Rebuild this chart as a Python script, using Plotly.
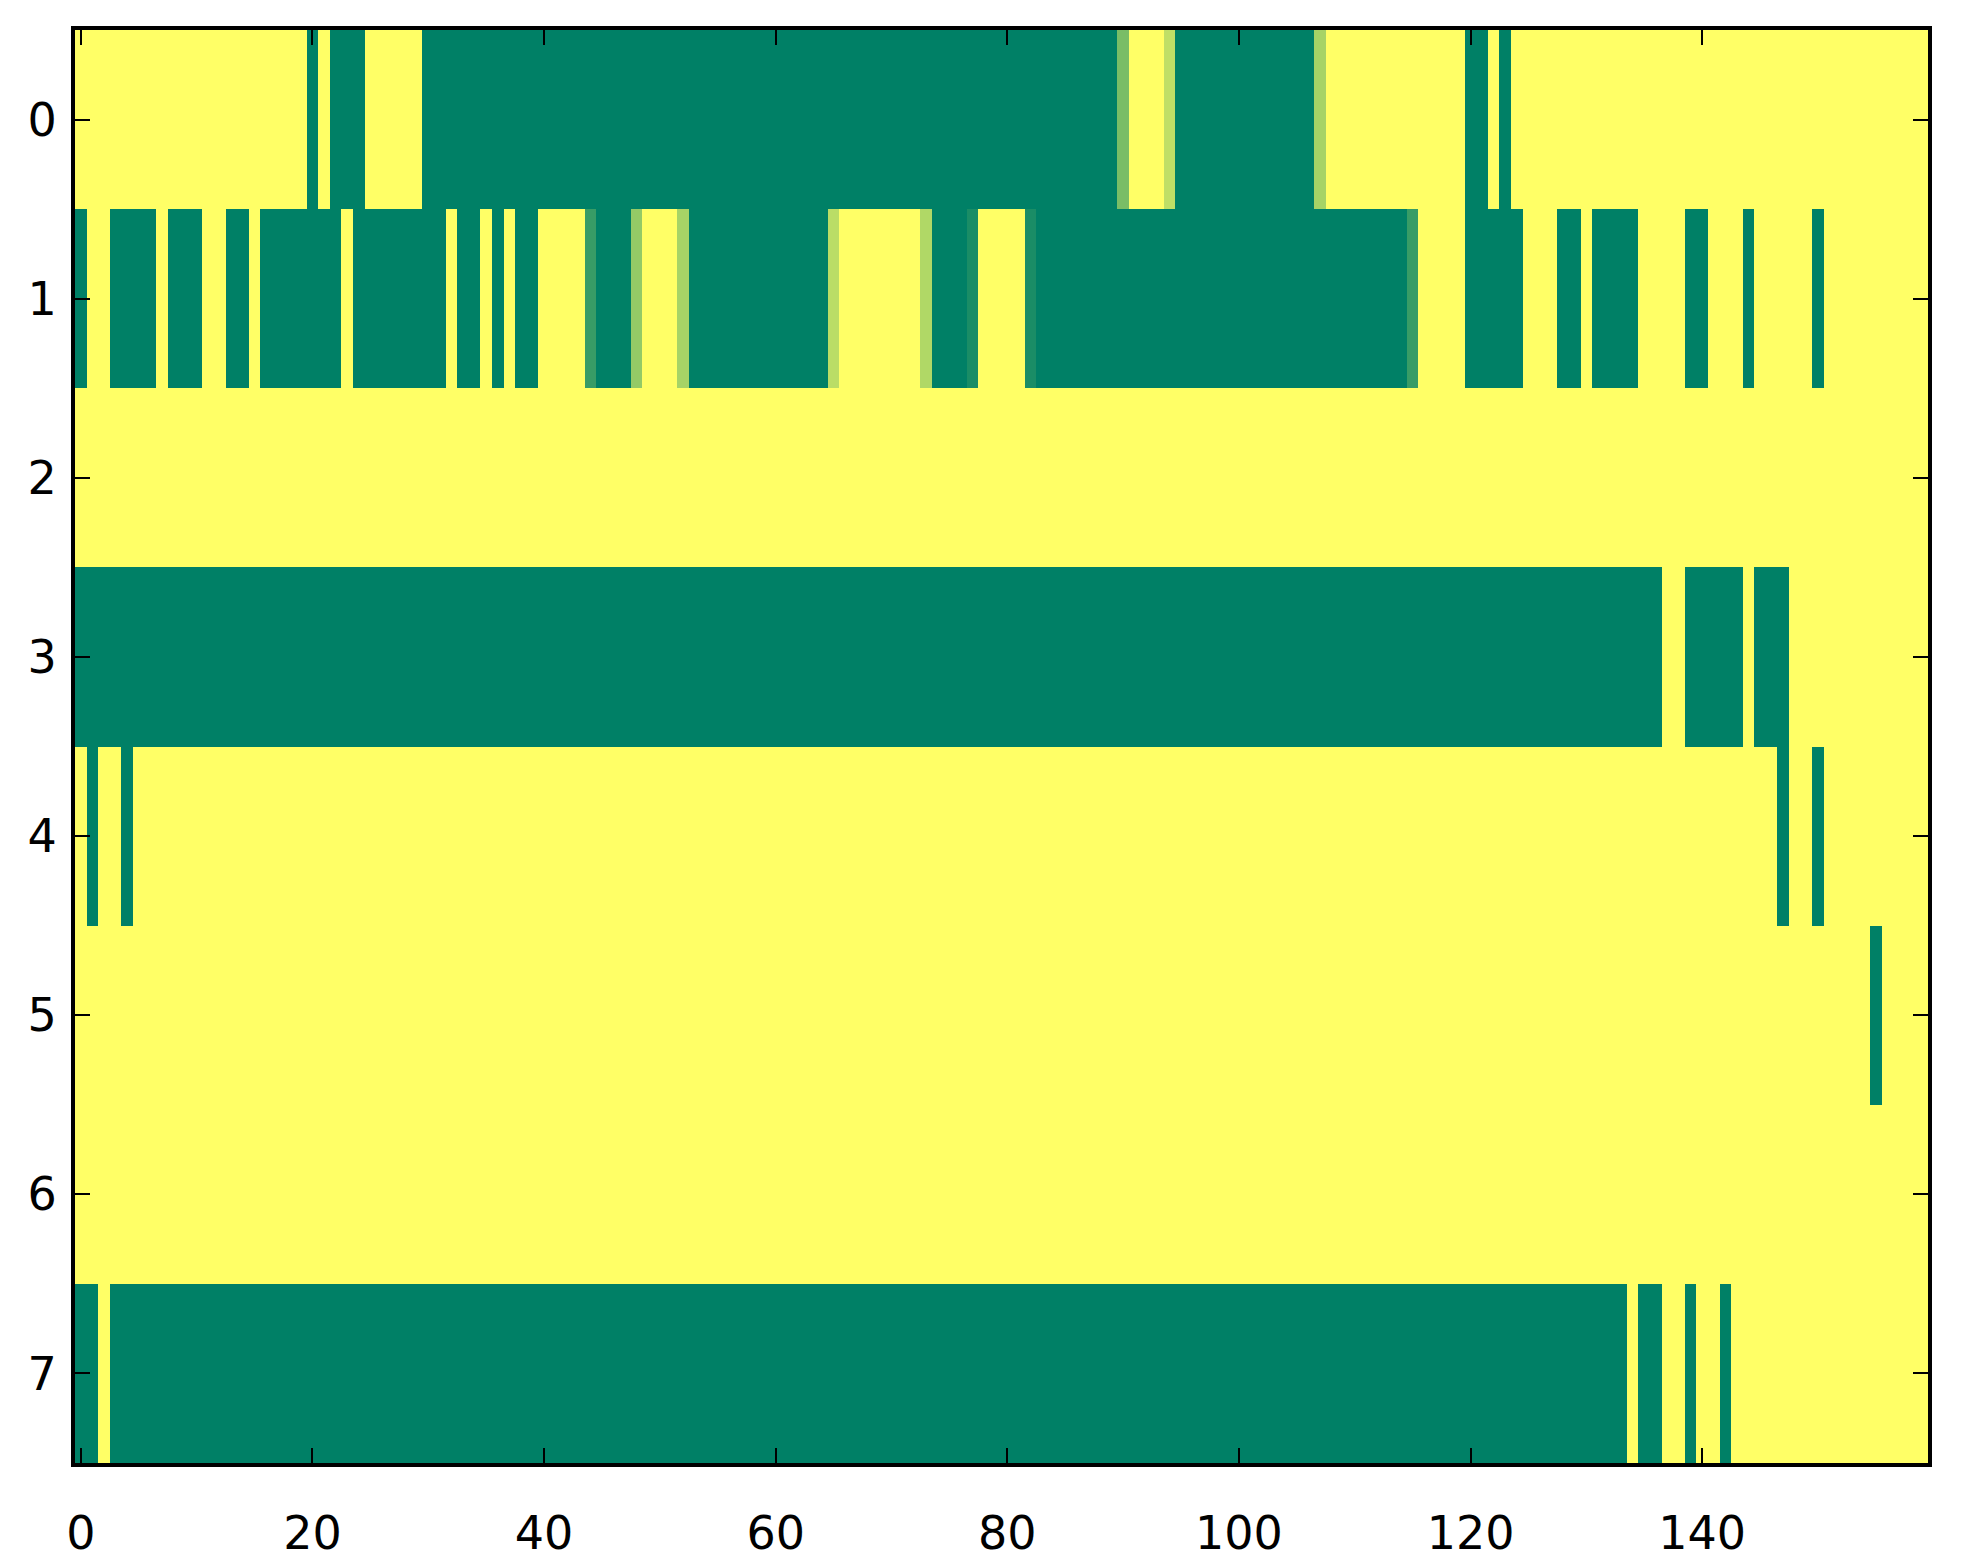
import plotly.graph_objects as go

# one list per row of the image, 160 columns each (0 = green, 1 = yellow)
row0 = [
    1, 1, 1, 1, 1, 1, 1, 1, 1, 1, 1, 1, 1, 1, 1, 1, 1, 1, 1, 1,
    0, 1, 0, 0, 0, 1, 1, 1, 1, 1, 0, 0, 0, 0, 0, 0, 0, 0, 0, 0,
    0, 0, 0, 0, 0, 0, 0, 0, 0, 0, 0, 0, 0, 0, 0, 0, 0, 0, 0, 0,
    0, 0, 0, 0, 0, 0, 0, 0, 0, 0, 0, 0, 0, 0, 0, 0, 0, 0, 0, 0,
    0, 0, 0, 0, 0, 0, 0, 0, 0, 0, 0.48, 1, 1, 1, 0.75, 0, 0, 0, 0, 0,
    0, 0, 0, 0, 0, 0, 0, 0.65, 1, 1, 1, 1, 1, 1, 1, 1, 1, 1, 1, 1,
    0, 0, 1, 0, 1, 1, 1, 1, 1, 1, 1, 1, 1, 1, 1, 1, 1, 1, 1, 1,
    1, 1, 1, 1, 1, 1, 1, 1, 1, 1, 1, 1, 1, 1, 1, 1, 1, 1, 1, 1,
]
row1 = [
    0, 1, 1, 0, 0, 0, 0, 1, 0, 0, 0, 1, 1, 0, 0, 1, 0, 0, 0, 0,
    0, 0, 0, 1, 0, 0, 0, 0, 0, 0, 0, 0, 1, 0, 0, 1, 0, 1, 0, 0,
    1, 1, 1, 1, 0.22, 0, 0, 0, 0.58, 1, 1, 1, 0.65, 0, 0, 0, 0, 0, 0, 0,
    0, 0, 0, 0, 0, 0.73, 1, 1, 1, 1, 1, 1, 1, 0.69, 0, 0, 0, 0.1, 1, 1,
    1, 1, 0.1, 0, 0, 0, 0, 0, 0, 0, 0, 0, 0, 0, 0, 0, 0, 0, 0, 0,
    0, 0, 0, 0, 0, 0, 0, 0, 0, 0, 0, 0, 0, 0, 0, 0.22, 1, 1, 1, 1,
    0, 0, 0, 0, 0, 1, 1, 1, 0, 0, 1, 0, 0, 0, 0, 1, 1, 1, 1, 0,
    0, 1, 1, 1, 0, 1, 1, 1, 1, 1, 0, 1, 1, 1, 1, 1, 1, 1, 1, 1,
]
row2 = [
    1, 1, 1, 1, 1, 1, 1, 1, 1, 1, 1, 1, 1, 1, 1, 1, 1, 1, 1, 1,
    1, 1, 1, 1, 1, 1, 1, 1, 1, 1, 1, 1, 1, 1, 1, 1, 1, 1, 1, 1,
    1, 1, 1, 1, 1, 1, 1, 1, 1, 1, 1, 1, 1, 1, 1, 1, 1, 1, 1, 1,
    1, 1, 1, 1, 1, 1, 1, 1, 1, 1, 1, 1, 1, 1, 1, 1, 1, 1, 1, 1,
    1, 1, 1, 1, 1, 1, 1, 1, 1, 1, 1, 1, 1, 1, 1, 1, 1, 1, 1, 1,
    1, 1, 1, 1, 1, 1, 1, 1, 1, 1, 1, 1, 1, 1, 1, 1, 1, 1, 1, 1,
    1, 1, 1, 1, 1, 1, 1, 1, 1, 1, 1, 1, 1, 1, 1, 1, 1, 1, 1, 1,
    1, 1, 1, 1, 1, 1, 1, 1, 1, 1, 1, 1, 1, 1, 1, 1, 1, 1, 1, 1,
]
row3 = [
    0, 0, 0, 0, 0, 0, 0, 0, 0, 0, 0, 0, 0, 0, 0, 0, 0, 0, 0, 0,
    0, 0, 0, 0, 0, 0, 0, 0, 0, 0, 0, 0, 0, 0, 0, 0, 0, 0, 0, 0,
    0, 0, 0, 0, 0, 0, 0, 0, 0, 0, 0, 0, 0, 0, 0, 0, 0, 0, 0, 0,
    0, 0, 0, 0, 0, 0, 0, 0, 0, 0, 0, 0, 0, 0, 0, 0, 0, 0, 0, 0,
    0, 0, 0, 0, 0, 0, 0, 0, 0, 0, 0, 0, 0, 0, 0, 0, 0, 0, 0, 0,
    0, 0, 0, 0, 0, 0, 0, 0, 0, 0, 0, 0, 0, 0, 0, 0, 0, 0, 0, 0,
    0, 0, 0, 0, 0, 0, 0, 0, 0, 0, 0, 0, 0, 0, 0, 0, 0, 1, 1, 0,
    0, 0, 0, 0, 1, 0, 0, 0, 1, 1, 1, 1, 1, 1, 1, 1, 1, 1, 1, 1,
]
row4 = [
    1, 0, 1, 1, 0, 1, 1, 1, 1, 1, 1, 1, 1, 1, 1, 1, 1, 1, 1, 1,
    1, 1, 1, 1, 1, 1, 1, 1, 1, 1, 1, 1, 1, 1, 1, 1, 1, 1, 1, 1,
    1, 1, 1, 1, 1, 1, 1, 1, 1, 1, 1, 1, 1, 1, 1, 1, 1, 1, 1, 1,
    1, 1, 1, 1, 1, 1, 1, 1, 1, 1, 1, 1, 1, 1, 1, 1, 1, 1, 1, 1,
    1, 1, 1, 1, 1, 1, 1, 1, 1, 1, 1, 1, 1, 1, 1, 1, 1, 1, 1, 1,
    1, 1, 1, 1, 1, 1, 1, 1, 1, 1, 1, 1, 1, 1, 1, 1, 1, 1, 1, 1,
    1, 1, 1, 1, 1, 1, 1, 1, 1, 1, 1, 1, 1, 1, 1, 1, 1, 1, 1, 1,
    1, 1, 1, 1, 1, 1, 1, 0, 1, 1, 0, 1, 1, 1, 1, 1, 1, 1, 1, 1,
]
row5 = [
    1, 1, 1, 1, 1, 1, 1, 1, 1, 1, 1, 1, 1, 1, 1, 1, 1, 1, 1, 1,
    1, 1, 1, 1, 1, 1, 1, 1, 1, 1, 1, 1, 1, 1, 1, 1, 1, 1, 1, 1,
    1, 1, 1, 1, 1, 1, 1, 1, 1, 1, 1, 1, 1, 1, 1, 1, 1, 1, 1, 1,
    1, 1, 1, 1, 1, 1, 1, 1, 1, 1, 1, 1, 1, 1, 1, 1, 1, 1, 1, 1,
    1, 1, 1, 1, 1, 1, 1, 1, 1, 1, 1, 1, 1, 1, 1, 1, 1, 1, 1, 1,
    1, 1, 1, 1, 1, 1, 1, 1, 1, 1, 1, 1, 1, 1, 1, 1, 1, 1, 1, 1,
    1, 1, 1, 1, 1, 1, 1, 1, 1, 1, 1, 1, 1, 1, 1, 1, 1, 1, 1, 1,
    1, 1, 1, 1, 1, 1, 1, 1, 1, 1, 1, 1, 1, 1, 1, 0, 1, 1, 1, 1,
]
row6 = [
    1, 1, 1, 1, 1, 1, 1, 1, 1, 1, 1, 1, 1, 1, 1, 1, 1, 1, 1, 1,
    1, 1, 1, 1, 1, 1, 1, 1, 1, 1, 1, 1, 1, 1, 1, 1, 1, 1, 1, 1,
    1, 1, 1, 1, 1, 1, 1, 1, 1, 1, 1, 1, 1, 1, 1, 1, 1, 1, 1, 1,
    1, 1, 1, 1, 1, 1, 1, 1, 1, 1, 1, 1, 1, 1, 1, 1, 1, 1, 1, 1,
    1, 1, 1, 1, 1, 1, 1, 1, 1, 1, 1, 1, 1, 1, 1, 1, 1, 1, 1, 1,
    1, 1, 1, 1, 1, 1, 1, 1, 1, 1, 1, 1, 1, 1, 1, 1, 1, 1, 1, 1,
    1, 1, 1, 1, 1, 1, 1, 1, 1, 1, 1, 1, 1, 1, 1, 1, 1, 1, 1, 1,
    1, 1, 1, 1, 1, 1, 1, 1, 1, 1, 1, 1, 1, 1, 1, 1, 1, 1, 1, 1,
]
row7 = [
    0, 0, 1, 0, 0, 0, 0, 0, 0, 0, 0, 0, 0, 0, 0, 0, 0, 0, 0, 0,
    0, 0, 0, 0, 0, 0, 0, 0, 0, 0, 0, 0, 0, 0, 0, 0, 0, 0, 0, 0,
    0, 0, 0, 0, 0, 0, 0, 0, 0, 0, 0, 0, 0, 0, 0, 0, 0, 0, 0, 0,
    0, 0, 0, 0, 0, 0, 0, 0, 0, 0, 0, 0, 0, 0, 0, 0, 0, 0, 0, 0,
    0, 0, 0, 0, 0, 0, 0, 0, 0, 0, 0, 0, 0, 0, 0, 0, 0, 0, 0, 0,
    0, 0, 0, 0, 0, 0, 0, 0, 0, 0, 0, 0, 0, 0, 0, 0, 0, 0, 0, 0,
    0, 0, 0, 0, 0, 0, 0, 0, 0, 0, 0, 0, 0, 0, 1, 0, 0, 1, 1, 0,
    1, 1, 0, 1, 1, 1, 1, 1, 1, 1, 1, 1, 1, 1, 1, 1, 1, 1, 1, 1,
]

rows = [row0, row1, row2, row3, row4, row5, row6, row7]
x_ticks = [0, 20, 40, 60, 80, 100, 120, 140]
y_ticks = [0, 1, 2, 3, 4, 5, 6, 7]

# matplotlib "summer" is linear from (0, .5, .4) to (1, 1, .4)
summer = [[0.0, "#008066"], [1.0, "#ffff66"]]

fig = go.Figure(
    go.Heatmap(
        z=rows,
        colorscale=summer,
        zmin=0,
        zmax=1,
        showscale=False,
        hoverongaps=False,
    )
)

axis_style = dict(
    showline=True,
    linewidth=4,
    linecolor="black",
    mirror="ticks",
    ticks="inside",
    ticklen=15,
    tickwidth=2,
    tickcolor="black",
    showgrid=False,
    zeroline=False,
    tickfont=dict(family="DejaVu Sans", size=46, color="black"),
)

fig.update_xaxes(
    range=[-0.5, len(row0) - 0.5],
    tickvals=x_ticks,
    ticklabelstandoff=27,
    **axis_style,
)
fig.update_yaxes(
    range=[len(rows) - 0.5, -0.5],
    tickvals=y_ticks,
    ticklabelstandoff=5,
    **axis_style,
)

fig.update_layout(
    width=1963,
    height=1564,
    autosize=False,
    margin=dict(l=67, r=43, t=22, b=105),
    paper_bgcolor="white",
    plot_bgcolor="white",
)

fig.write_html("out.html")
